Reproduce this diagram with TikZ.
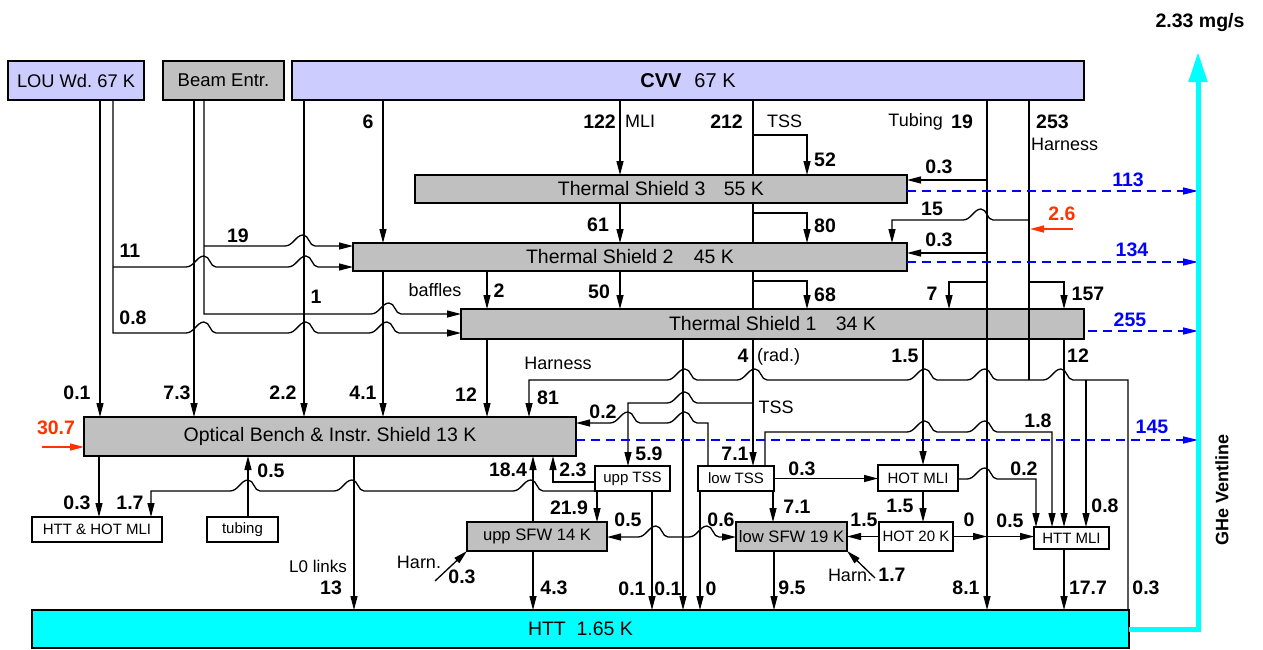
\documentclass[tikz,border=0pt]{standalone}
\usepackage{fontspec}
\setmainfont{Liberation Sans}
\usetikzlibrary{arrows.meta}
\definecolor{lav}{RGB}{204,204,255}
\definecolor{gbox}{RGB}{192,192,192}
\definecolor{cyn}{RGB}{0,255,255}
\definecolor{rdn}{RGB}{255,51,0}
\definecolor{bln}{RGB}{0,0,255}
\newcommand\jmp[2]{-- ({#1-16},{#2}) .. controls ({#1-8},{#2}) and ({#1-5},{#2-11}) .. ({#1+2},{#2-11}) .. controls ({#1+8},{#2-11}) and ({#1+8},{#2}) .. ({#1+14},{#2})}
\begin{document}
\begin{tikzpicture}[x=1pt,y=-1pt,
  ln/.style={line width=1.3pt},
  ar/.style={ln,-{Triangle[length=14pt,width=7pt]}},
  ra/.style={ln,{Triangle[length=14pt,width=7pt]}-},
  box/.style={draw,line width=1.4pt,inner sep=0pt,outer sep=0pt,font=\fontsize{19.5}{22}\selectfont},
  sbox/.style={draw,line width=1.4pt,inner sep=0pt,outer sep=0pt,fill=white,font=\fontsize{15}{17}\selectfont},
  num/.style={font=\fontsize{19.5}{22}\selectfont\bfseries,inner sep=0pt},
  lab/.style={font=\fontsize{18}{20}\selectfont,inner sep=0pt},
  bnum/.style={num,text=bln},
  rnum/.style={num,text=rdn},
  bdash/.style={draw=bln,line width=1.5pt,dash pattern=on 9pt off 6pt,-{Triangle[length=15pt,width=7pt]}},
]
\useasboundingbox (0,0) rectangle (1263,649);

% ---------- boxes ----------
\node[box,fill=lav,minimum width=136pt,minimum height=39pt,font=\fontsize{18.3}{20}\selectfont] (LOU) at (76,80.5) {LOU Wd.\ 67 K};
\node[box,fill=gbox,minimum width=121pt,minimum height=39pt,font=\fontsize{18.5}{20}\selectfont] (BE) at (223.5,80.5) {Beam Entr.};
\node[box,fill=lav,minimum width=792pt,minimum height=39pt,font=\fontsize{20}{22}\selectfont] (CVV) at (688,80.5) {\textbf{CVV}\hspace{0.65em}67 K};
\node[box,fill=gbox,minimum width=492pt,minimum height=28pt] (TS3) at (661,189) {Thermal Shield 3\hspace{0.95em}55 K};
\node[box,fill=gbox,minimum width=554pt,minimum height=28pt] (TS2) at (630,257) {Thermal Shield 2\hspace{1.05em}45 K};
\node[box,fill=gbox,minimum width=623pt,minimum height=30pt] (TS1) at (772.5,324) {Thermal Shield 1\hspace{1em}34 K};
\node[box,fill=gbox,minimum width=492pt,minimum height=39pt] (OB) at (330,436.5) {Optical Bench \& Instr.\ Shield 13 K};
\node[box,fill=cyn,minimum width=1097pt,minimum height=38pt] (HTT) at (580.5,629) {HTT\hspace{0.55em}1.65 K};
\node[sbox,minimum width=130pt,minimum height=25pt] (HH) at (97,529.5) {HTT \& HOT MLI};
\node[sbox,minimum width=71pt,minimum height=25pt] (TUB) at (242.5,529.5) {tubing};
\node[sbox,minimum width=75pt,minimum height=25pt] (UT) at (632.5,478.5) {upp TSS};
\node[sbox,minimum width=76pt,minimum height=25pt] (LT) at (736,478.5) {low TSS};
\node[box,fill=gbox,minimum width=140pt,minimum height=29pt,font=\fontsize{16.6}{19}\selectfont] (US) at (537,536.5) {upp SFW 14 K};
\node[box,fill=gbox,minimum width=111pt,minimum height=29pt,font=\fontsize{16.6}{19}\selectfont] (LS) at (791.5,536.5) {low SFW 19 K};
\node[sbox,minimum width=74pt,minimum height=29pt] (H20) at (916,536.5) {HOT 20 K};
\node[sbox,minimum width=80pt,minimum height=26pt] (HM) at (918,478) {HOT MLI};
\node[sbox,minimum width=75pt,minimum height=22pt] (TM) at (1071.5,538) {HTT MLI};

% ---------- LOU / Beam / CVV left ----------
\draw[ar] (LOU.south -| 100,0) -- (OB.north -| 100,0);
\draw[ar] (LOU.south -| 113,0) -- (113,333) \jmp{202}{333} \jmp{304}{333} \jmp{385}{333} -- (TS1.west |- 0,333);
\draw[ar] (113,267) \jmp{202}{267} \jmp{304}{267} -- (TS2.west |- 0,267);
\draw[ar] (BE.south -| 194,0) -- (OB.north -| 194,0);
\draw[ar] (BE.south -| 204,0) -- (204,314) \jmp{387}{314} -- (TS1.west |- 0,314);
\draw[ar] (204,246) \jmp{301}{246} -- (TS2.west |- 0,246);
\draw[ar] (CVV.south -| 304,0) -- (OB.north -| 304,0);
\draw[ar] (CVV.south -| 383,0) -- (TS2.north -| 383,0);
\draw[ar] (TS2.south -| 383,0) -- (OB.north -| 383,0);
\draw[ar] (TS2.south -| 487,0) -- (TS1.north -| 487,0);
\draw[ar] (TS1.south -| 487,0) -- (OB.north -| 487,0);
\draw[ar] (CVV.south -| 620,0) -- (TS3.north -| 620,0);
\draw[ar] (TS3.south -| 620,0) -- (TS2.north -| 620,0);
\draw[ar] (TS2.south -| 620,0) -- (TS1.north -| 620,0);

% ---------- TSS 212 ----------
\draw[ln] (CVV.south -| 753,0) -- (TS3.north -| 753,0);
\draw[ln] (TS3.south -| 753,0) -- (TS2.north -| 753,0);
\draw[ln] (TS2.south -| 753,0) -- (TS1.north -| 753,0);
\draw[ar] (TS1.south -| 753,0) -- (LT.north -| 753,0);
\draw[ar] (753,135) -- (807,135) -- (TS3.north -| 807,0);
\draw[ar] (753,213) -- (807,213) -- (TS2.north -| 807,0);
\draw[ar] (753,281) -- (807,281) -- (TS1.north -| 807,0);
\draw[ra] (UT.north -| 628,0) -- (628,403) \jmp{683}{403} -- (753,403);

% ---------- x 683 from TS1 ----------
\draw[ar] (TS1.south -| 683,0) -- (HTT.north -| 683,0);
\draw[ra] (US.east |- 0,537) \jmp{654}{537} -- (683,537);
\draw[ar] (683,537) \jmp{705}{537} -- (LS.west |- 0,537);
\draw[ra] (OB.east |- 0,423) \jmp{626}{423} \jmp{683}{423} -- (708,423) -- (LT.north -| 708,0);

% ---------- harness 253 ----------
\draw[ln] (CVV.south -| 1029,0) -- (1029,380);
\draw[ra] (OB.north -| 529,0) -- (529,380) \jmp{683}{380} \jmp{753}{380} \jmp{923}{380} \jmp{983}{380} -- (1029,380) \jmp{1059}{380} -- (1128,380) -- (HTT.north -| 1128,0);
\draw[ar] (1086,380) -- (TM.north -| 1086,0);
\draw[ra] (TS2.north -| 892,0) -- (892,220) \jmp{979}{220} -- (1029,220);
\draw[ar] (1029,282) -- (1064,282) -- (TS1.north -| 1064,0);
\draw[rdn,line width=1.5pt,-{Triangle[length=14pt,width=7pt]}] (1073,229) -- (1030,229);

% ---------- tubing 19 ----------
\draw[ar] (CVV.south -| 987,0) -- (HTT.north -| 987,0);
\draw[ra] (TS3.east |- 0,180) -- (987,180);
\draw[ra] (TS2.east |- 0,253) -- (987,253);
\draw[ra] (TS1.north -| 949,0) -- (949,282) -- (987,282);

% ---------- TS1 to lower right ----------
\draw[ar] (TS1.south -| 923,0) -- (HM.north -| 923,0);
\draw[ar] (TS1.south -| 1064,0) -- (TM.north -| 1064,0);
\draw[ar] (LT.north -| 765,0) -- (765,432) \jmp{923}{432} \jmp{983}{432} -- (1052,432) -- (TM.north -| 1052,0);
\draw[ar] (LT.east) -- (HM.west |- LT.east);
\draw[ar] (HM.south -| 923,0) -- (H20.north -| 923,0);
\draw[ar] (HM.east |- 0,479) \jmp{983}{479} -- (1036,479) -- (TM.north -| 1036,0);
\draw[ar] (H20.west) -- (LS.east);
\draw[ar] (H20.east) -- (H20.east -| 987,0);
\draw[ar] (H20.east -| 987,0) -- (TM.west |- H20.east);
\draw[ar] (TM.south -| 1064,0) -- (HTT.north -| 1064,0);

% ---------- TSS boxes ----------
\draw[ar] (LT.south -| 773,0) -- (LS.north -| 773,0);
\draw[ar] (LT.south -| 700,0) -- (HTT.north -| 700,0);
\draw[ar] (UT.south -| 652,0) -- (HTT.north -| 652,0);
\draw[ar] (UT.south -| 597,0) -- (US.north -| 597,0);
\draw[ra] (HH.north -| 151,0) -- (151,491) \jmp{246}{491} \jmp{350}{491} \jmp{529}{491} -- (UT.south west);
\draw[ar] (UT.west |- 0,482) -- (553,482) -- (OB.south -| 553,0);

% ---------- SFW ----------
\draw[ar] (US.north -| 533,0) -- (OB.south -| 533,0);
\draw[ar] (US.south -| 533,0) -- (HTT.north -| 533,0);
\draw[ar] (435,581) -- (US.south west);
\draw[ar] (LS.south -| 774,0) -- (HTT.north -| 774,0);
\draw[ar] (875,578) -- (LS.south east);

% ---------- OB bottom ----------
\draw[ar] (OB.south -| 99,0) -- (HH.north -| 99,0);
\draw[ar] (TUB.north -| 248,0) -- (OB.south -| 248,0);
\draw[ar] (OB.south -| 354,0) -- (HTT.north -| 354,0);
\draw[rdn,line width=1.5pt,-{Triangle[length=14pt,width=7pt]}] (42,447) -- (OB.west |- 0,447);

% ---------- vent line ----------
\draw[bdash] (TS3.east |- 0,191) -- (1198,191);
\draw[bdash] (TS2.east |- 0,262) -- (1198,262);
\draw[bdash] (1088,331) -- (1198,331);
\draw[bdash] (OB.east |- 0,440) -- (1198,440);
\draw[cyn,line width=5pt,-{Triangle[length=30pt,width=18pt]}] (HTT.east |- 0,629) -- (1198,629) -- (1198,52);

% ---------- labels ----------
\node[num] at (368,122) {6};
\node[num,anchor=east] at (616,122) {122};
\node[lab,anchor=west] at (625,121) {MLI};
\node[num,anchor=east] at (743,122) {212};
\node[lab,anchor=west] at (767,121) {TSS};
\node[lab,anchor=east] at (943,122) {Tubing};
\node[num,anchor=west] at (951,122) {19};
\node[num,anchor=west] at (1036,122) {253};
\node[lab,anchor=west] at (1031,144) {Harness};
\node[num,anchor=west] at (814,160) {52};
\node[num] at (939,167) {0.3};
\node[bnum] at (1128,180) {113};
\node[num] at (932,209) {15};
\node[rnum] at (1062,214) {2.6};
\node[num] at (598,225) {61};
\node[num,anchor=west] at (814,226) {80};
\node[num] at (939,240) {0.3};
\node[bnum] at (1132,250) {134};
\node[num] at (238,236) {19};
\node[num] at (130,251) {11};
\node[lab] at (435,290) {baffles};
\node[num] at (499,291) {2};
\node[num] at (599,292) {50};
\node[num,anchor=west] at (814,295) {68};
\node[num] at (932,294) {7};
\node[num] at (1088,294) {157};
\node[num] at (316,297) {1};
\node[num] at (133,318) {0.8};
\node[bnum] at (1130,320) {255};
\node[num] at (743,356) {4};
\node[lab,anchor=west] at (757,357) {(rad.)};
\node[num] at (905,356) {1.5};
\node[num] at (1078,356) {12};
\node[lab] at (558,363) {Harness};
\node[num] at (548,398) {81};
\node[num] at (466,395) {12};
\node[num] at (77,393) {0.1};
\node[num] at (177,393) {7.3};
\node[num] at (283,393) {2.2};
\node[num] at (363,393) {4.1};
\node[lab] at (776,407) {TSS};
\node[num] at (603,412) {0.2};
\node[num] at (1038,421) {1.8};
\node[bnum] at (1152,427) {145};
\node[rnum] at (56,428) {30.7};
\node[num] at (649,454) {5.9};
\node[num] at (735,454) {7.1};
\node[num] at (802,469) {0.3};
\node[num] at (271,471) {0.5};
\node[num] at (508,470) {18.4};
\node[num] at (573,470) {2.3};
\node[num] at (1024,469) {0.2};
\node[num] at (77,503) {0.3};
\node[num] at (130,503) {1.7};
\node[num] at (900,506) {1.5};
\node[num] at (1105,506) {0.8};
\node[num] at (569,508) {21.9};
\node[num] at (797,507) {7.1};
\node[num] at (628,520) {0.5};
\node[num] at (721,520) {0.6};
\node[num] at (864,520) {1.5};
\node[num] at (969,520) {0};
\node[num] at (1010,521) {0.5};
\node[lab] at (419,562) {Harn.};
\node[num] at (462,577) {0.3};
\node[lab] at (850,575) {Harn.};
\node[num] at (892,575) {1.7};
\node[lab,font=\fontsize{17}{19}\selectfont] at (318,566) {L0 links};
\node[num] at (331,588) {13};
\node[num] at (554,588) {4.3};
\node[num] at (632,589) {0.1};
\node[num] at (668,589) {0.1};
\node[num] at (711,589) {0};
\node[num] at (792,588) {9.5};
\node[num] at (966,588) {8.1};
\node[num] at (1088,588) {17.7};
\node[num] at (1146,588) {0.3};
\node[num] at (1200,22) {2.33 mg/s};
\node[num,font=\fontsize{18}{20}\selectfont\bfseries,rotate=90] at (1222,490) {GHe Ventline};
\end{tikzpicture}
\end{document}
